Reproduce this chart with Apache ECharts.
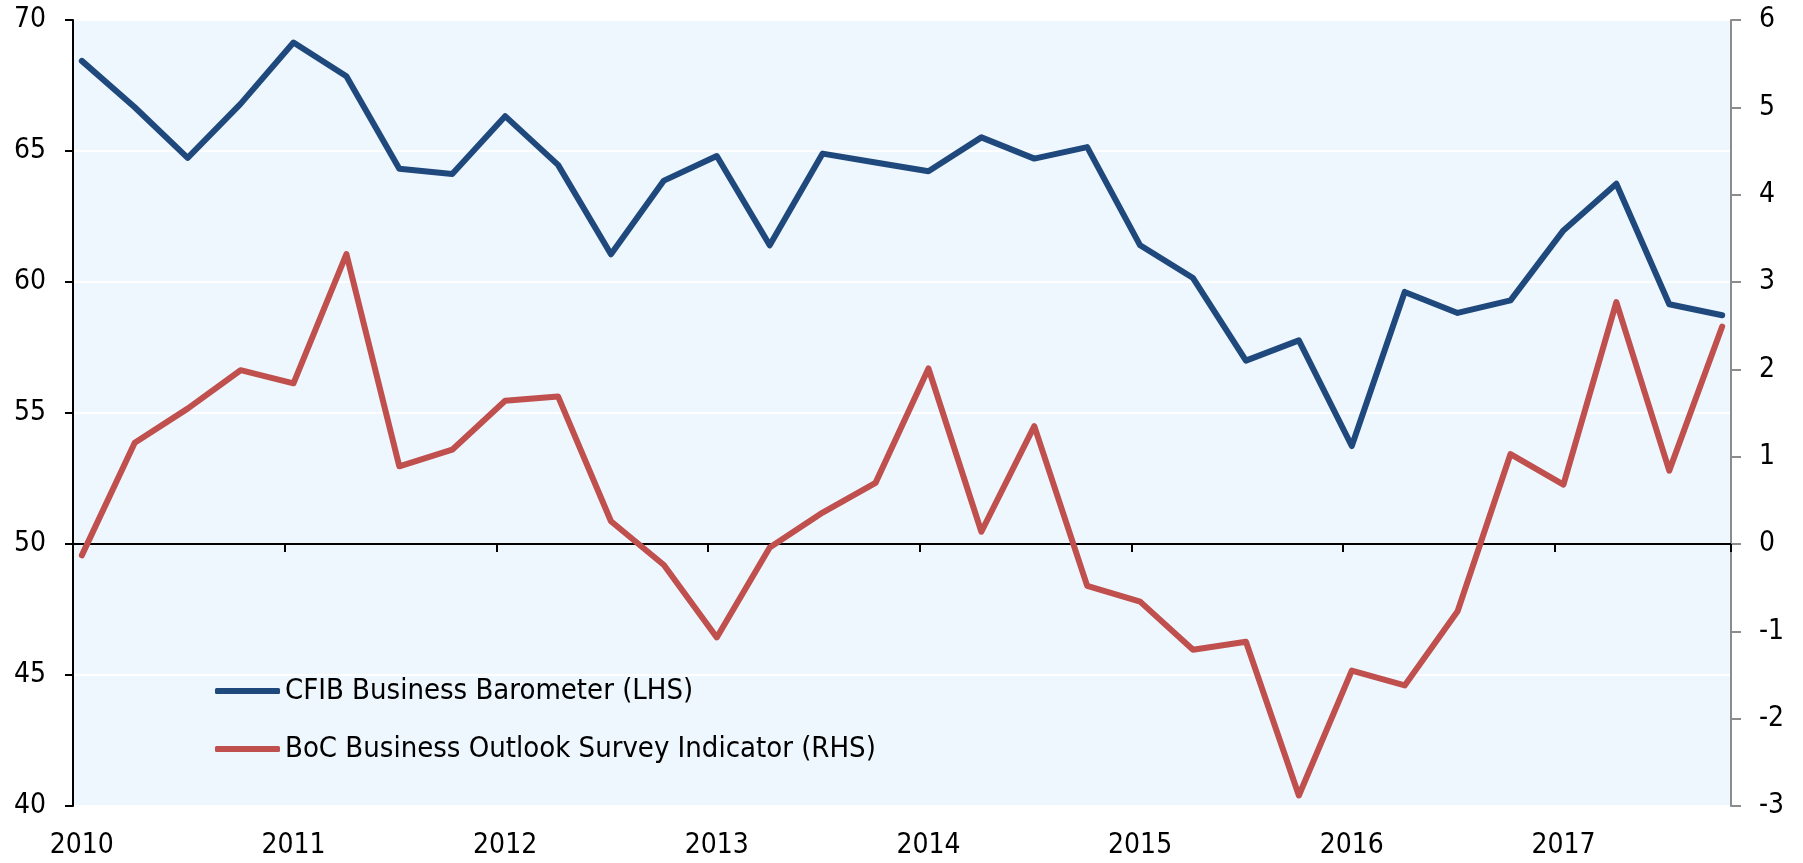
<!DOCTYPE html>
<html>
<head>
<meta charset="utf-8">
<title>CFIB Business Barometer vs BoC Business Outlook Survey</title>
<script src="https://cdn.jsdelivr.net/npm/echarts@6/dist/echarts.min.js"></script>
<style>
  html, body { margin: 0; padding: 0; background: #fff; }
  #chart { width: 1803px; height: 863px; }
</style>
</head>
<body>
<div id="chart"></div>
<script>
// quarterly observations, 2010Q1 .. 2017Q4
const quarters = [
  '2010Q1', '2010Q2', '2010Q3', '2010Q4',
  '2011Q1', '2011Q2', '2011Q3', '2011Q4',
  '2012Q1', '2012Q2', '2012Q3', '2012Q4',
  '2013Q1', '2013Q2', '2013Q3', '2013Q4',
  '2014Q1', '2014Q2', '2014Q3', '2014Q4',
  '2015Q1', '2015Q2', '2015Q3', '2015Q4',
  '2016Q1', '2016Q2', '2016Q3', '2016Q4',
  '2017Q1', '2017Q2', '2017Q3', '2017Q4'
]

// CFIB Business Barometer (left axis)
const cfib = [
  68.44, 66.67, 64.74, 66.80,
  69.14, 67.85, 64.32, 64.12,
  66.33, 64.47, 61.06, 63.87,
  64.81, 61.40, 64.90, 64.56,
  64.23, 65.52, 64.71, 65.15,
  61.40, 60.15, 57.00, 57.77,
  53.74, 59.62, 58.82, 59.30,
  61.97, 63.75, 59.15, 58.73
]

// BoC Business Outlook Survey Indicator (right axis)
const boc = [
  -0.13, 1.16, 1.55, 1.99,
  1.84, 3.32, 0.89, 1.08,
  1.64, 1.69, 0.26, -0.24,
  -1.07, -0.04, 0.36, 0.70,
  2.01, 0.14, 1.35, -0.48,
  -0.66, -1.21, -1.12, -2.88,
  -1.45, -1.62, -0.77, 1.03,
  0.68, 2.77, 0.84, 2.49
]

const seriesNames = ['CFIB Business Barometer (LHS)', 'BoC Business Outlook Survey Indicator (RHS)']

// the original is a monthly date axis, so spread the quarters over months
const months = []
const cfibMonthly = []
const bocMonthly = []
quarters.forEach((q, i) => {
  const year = q.slice(0, 4)
  const firstMonth = (Number(q[5]) - 1) * 3 + 1
  const n = i === quarters.length - 1 ? 1 : 3
  for (let k = 0; k < n; k++) {
    months.push(year + '-' + String(firstMonth + k).padStart(2, '0'))
    cfibMonthly.push(k === 0 ? cfib[i] : null)
    bocMonthly.push(k === 0 ? boc[i] : null)
  }
})

const FONT = "'DejaVu Sans Condensed', 'DejaVu Sans', sans-serif"

const chart = echarts.init(document.getElementById('chart'))

const option = {
  animation: false,
  backgroundColor: '#ffffff',
  grid: {
    left: 73,
    right: 72,
    top: 20,
    bottom: 57,
    show: true,
    backgroundColor: '#EEF6FE',
    borderWidth: 0
  },
  legend: {
    orient: 'vertical',
    left: 210,
    top: 671,
    itemWidth: 65,
    itemHeight: 6,
    itemGap: 28,
    icon: 'roundRect',
    data: seriesNames,
    textStyle: { fontFamily: FONT, fontSize: 29, color: '#000', lineHeight: 30 }
  },
  xAxis: [
    {
      // year labels along the bottom
      type: 'category',
      data: months,
      boundaryGap: true,
      position: 'bottom',
      axisLine: { show: false, onZero: false },
      axisTick: { show: false },
      splitLine: { show: false },
      axisLabel: {
        interval: 11,
        margin: 26,
        fontFamily: FONT,
        fontSize: 28,
        color: '#000',
        formatter: v => v.slice(0, 4)
      }
    },
    {
      // the crossing line at zero / 50
      type: 'category',
      data: months,
      boundaryGap: true,
      position: 'bottom',
      axisLine: { show: true, onZero: true, onZeroAxisIndex: 1, lineStyle: { color: '#000', width: 2 } },
      axisTick: {
        show: true,
        length: 8,
        interval: (index) => index % 12 === 0,
        lineStyle: { color: '#000', width: 2 }
      },
      axisLabel: { show: false },
      splitLine: { show: false }
    }
  ],
  yAxis: [
    {
      type: 'value',
      position: 'left',
      min: 40,
      max: 70,
      interval: 5,
      axisLine: { show: true, lineStyle: { color: '#000', width: 2 } },
      axisTick: { show: true, length: 8, lineStyle: { color: '#000', width: 2 } },
      splitLine: { show: true, lineStyle: { color: '#ffffff', width: 2 } },
      axisLabel: { margin: 27, fontFamily: FONT, fontSize: 28, color: '#000' }
    },
    {
      type: 'value',
      position: 'right',
      min: -3,
      max: 6,
      interval: 1,
      axisLine: { show: true, lineStyle: { color: '#8c8c8c', width: 2 } },
      axisTick: { show: true, length: 10, lineStyle: { color: '#8c8c8c', width: 2 } },
      splitLine: { show: false },
      axisLabel: { margin: 28, fontFamily: FONT, fontSize: 28, color: '#000' }
    }
  ],
  series: [
    {
      name: seriesNames[0],
      type: 'line',
      xAxisIndex: 0,
      yAxisIndex: 0,
      data: cfibMonthly,
      connectNulls: true,
      symbol: 'none',
      color: '#1F497D',
      lineStyle: { color: '#1F497D', width: 6, join: 'round', cap: 'round' }
    },
    {
      name: seriesNames[1],
      type: 'line',
      xAxisIndex: 0,
      yAxisIndex: 1,
      data: bocMonthly,
      connectNulls: true,
      symbol: 'none',
      color: '#C0504D',
      lineStyle: { color: '#C0504D', width: 6, join: 'round', cap: 'round' }
    }
  ]
}

chart.setOption(option)

window.addEventListener('resize', () => chart.resize())
</script>
</body>
</html>
